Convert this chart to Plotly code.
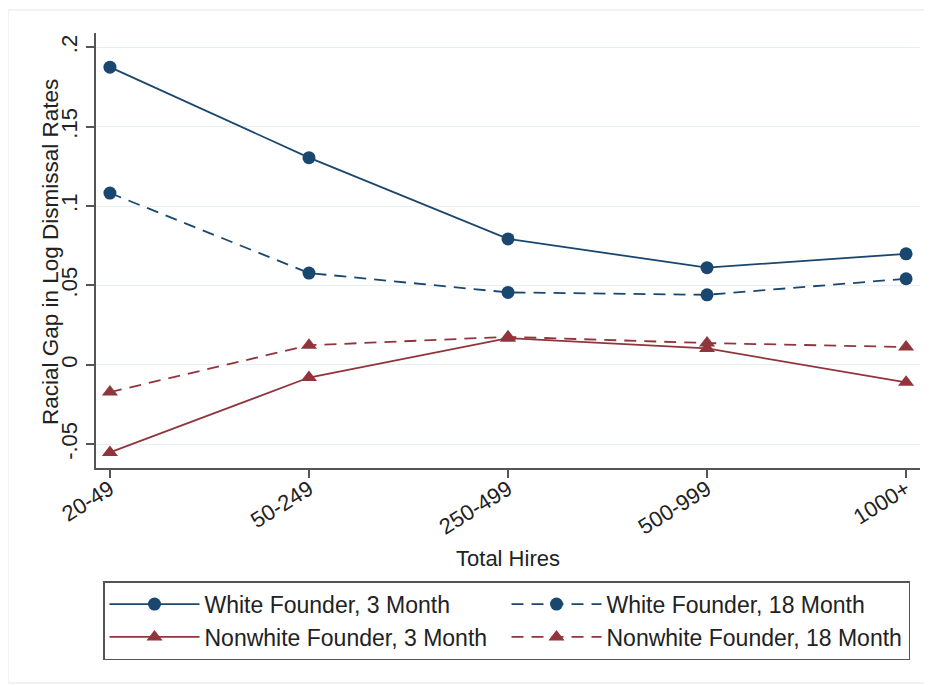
import plotly.graph_objects as go

categories = ["20-49", "50-249", "250-499", "500-999", "1000+"]
x_pos = [1, 2, 3, 4, 5]

white_3m = [0.1875, 0.1305, 0.0793, 0.0612, 0.0699]
white_18m = [0.1082, 0.0578, 0.0456, 0.0441, 0.0542]
nonwhite_3m = [-0.0552, -0.0080, 0.0168, 0.0103, -0.0110]
nonwhite_18m = [-0.0172, 0.0123, 0.0176, 0.0137, 0.0112]

y_ticks = [-0.05, 0, 0.05, 0.1, 0.15, 0.2]
y_ticklabels = ["-.05", "0", ".05", ".1", ".15", ".2"]

NAVY = "#1a476f"
MAROON = "#90353b"
FONT = "Liberation Sans, Arial, sans-serif"
TXT = "#222222"
AX = "#555555"

series = [
    ("White Founder, 3 Month", white_3m, NAVY, "solid", "circle"),
    ("White Founder, 18 Month", white_18m, NAVY, "12px,8px", "circle"),
    ("Nonwhite Founder, 3 Month", nonwhite_3m, MAROON, "solid", "triangle-up"),
    ("Nonwhite Founder, 18 Month", nonwhite_18m, MAROON, "12px,8px", "triangle-up"),
]

fig = go.Figure()
for name, vals, color, dash, sym in series:
    fig.add_trace(go.Scatter(
        x=x_pos, y=vals, name=name, mode="lines+markers",
        line=dict(color=color, width=1.8, dash=dash),
        marker=dict(symbol=sym, size=13 if sym == "circle" else 14, color=color),
    ))

# page body has an 8px margin, so the figure is sized/placed to compensate
fig.update_layout(
    width=924, height=677,
    margin=dict(l=88, r=12, t=25, b=217),
    paper_bgcolor="white", plot_bgcolor="white",
    font=dict(family=FONT, size=22, color=TXT),
    showlegend=True,
    legend=dict(
        orientation="h", x=0.0085, y=-0.26, xanchor="left", yanchor="top",
        bordercolor=AX, borderwidth=1.5, bgcolor="white",
        font=dict(family=FONT, size=23, color=TXT),
        itemwidth=90,
        entrywidth=297, entrywidthmode="pixels", traceorder="normal",
    ),
    xaxis=dict(
        range=[0.93, 5.07], tickmode="array", tickvals=x_pos, ticktext=categories,
        tickangle=-32, showgrid=False, zeroline=False,
        showline=True, linecolor=AX, linewidth=1.5,
        ticks="outside", ticklen=8, tickcolor=AX, tickwidth=1.5,
        tickfont=dict(size=22), ticklabelstandoff=-10,
        title=dict(text="Total Hires", standoff=12, font=dict(size=22)),
    ),
    yaxis=dict(
        range=[-0.065, 0.209], tickmode="array", tickvals=y_ticks, ticktext=y_ticklabels,
        tickangle=-90, showgrid=True, gridcolor="#e9eef0", gridwidth=1.2, zeroline=False,
        showline=True, linecolor=AX, linewidth=1.5,
        ticks="outside", ticklen=8, tickcolor=AX, tickwidth=1.5,
        tickfont=dict(size=22),
    ),
    annotations=[dict(
        text="Racial Gap in Log Dismissal Rates", textangle=-90,
        xref="paper", yref="paper", x=-0.0545, y=0.4966,
        xanchor="center", yanchor="middle", showarrow=False,
        font=dict(family=FONT, size=22.5, color=TXT),
    )],
    shapes=[dict(type="rect", xref="paper", yref="paper",
                 x0=-0.1068, x1=1.012, y0=-0.494, y1=1.0529,
                 line=dict(color="#eeeeee", width=1.5), layer="below")],
)

fig.write_html("out.html")
